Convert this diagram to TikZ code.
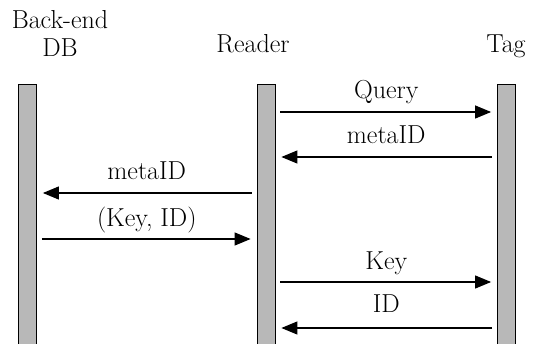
\documentclass[tikz,border=0pt]{standalone}
\usetikzlibrary{arrows.meta}
\begin{document}
\begin{tikzpicture}[x=1pt,y=-1pt,
  lifebar/.style={draw=black, line width=0.8pt, fill=black!28, minimum width=18pt, minimum height=270pt, inner sep=0pt, anchor=north},
  txt/.style={font=\fontsize{26}{30}\selectfont, inner sep=0pt},
  hdr/.style={txt, anchor=base},
  lbl/.style={txt, midway, anchor=base, yshift=13pt},
  msg/.style={line width=1.2pt, -{Triangle[length=16pt,width=13pt]}, shorten <=5pt, shorten >=6pt}]
\useasboundingbox (0,0) rectangle (533,344);
\clip (0,0) rectangle (533,344);
\node[lifebar] (db) at (27.5,84) {};
\node[lifebar] (reader) at (266,84) {};
\node[lifebar] (tag) at (506.5,84) {};
\node[hdr] (hback) at (60,29) {Back-end};
\node[hdr] (hdb) at (60,57) {DB};
\node[hdr] (hreader) at (253,53) {Reader};
\node[hdr] (htag) at (506,53) {Tag};
\draw[msg] (reader.east |- 0,112) -- node[lbl] {Query} (tag.west |- 0,112);
\draw[msg] (tag.west |- 0,157) -- node[lbl] {metaID} (reader.east |- 0,157);
\draw[msg] (reader.west |- 0,193) -- node[lbl] {metaID} (db.east |- 0,193);
\draw[msg] (db.east |- 0,239) -- node[lbl, yshift=-1pt] {(Key, ID)} (reader.west |- 0,239);
\draw[msg] (reader.east |- 0,282) -- node[lbl, yshift=-1pt] {Key} (tag.west |- 0,282);
\draw[msg] (tag.west |- 0,328) -- node[lbl, yshift=2pt] {ID} (reader.east |- 0,328);
\end{tikzpicture}
\end{document}
